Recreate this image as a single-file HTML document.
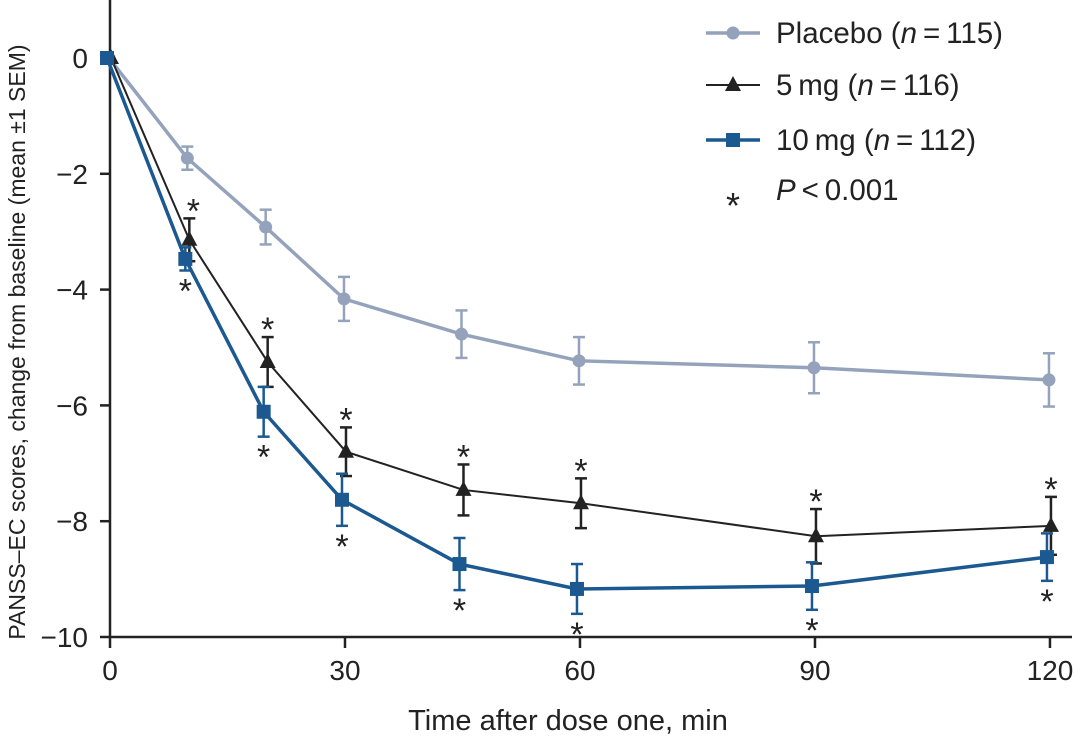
<!DOCTYPE html>
<html><head><meta charset="utf-8"><style>
html,body{margin:0;padding:0;background:#fff;}
svg text{font-family:"Liberation Sans",sans-serif;}
</style></head><body>
<svg id="chart" width="1074" height="740" xmlns="http://www.w3.org/2000/svg"></svg>
<script>
const times=[0,10,20,30,45,60,90,120];
const placebo=[0,-1.73,-2.92,-4.16,-4.77,-5.23,-5.35,-5.56];
const placeboErr=[0,0.2,0.3,0.38,0.41,0.41,0.44,0.46];
const mg5=[0,-3.14,-5.25,-6.8,-7.46,-7.69,-8.26,-8.08];
const mg5Err=[0,0.37,0.43,0.42,0.44,0.43,0.47,0.5];
const mg10=[0,-3.47,-6.11,-7.63,-8.74,-9.17,-9.12,-8.62];
const mg10Err=[0,0.2,0.43,0.45,0.45,0.43,0.41,0.41];
const yTicks=[0,-2,-4,-6,-8,-10];
const yTickLabels=["0","\u22122","\u22124","\u22126","\u22128","\u221210"];
const xTicks=[0,30,60,90,120];

const svg=document.getElementById('chart');
const NS="http://www.w3.org/2000/svg";
const X=t=>110+t*7.833;
const Y=v=>58-v*57.9;
function mk(tag,attrs,parent){const e=document.createElementNS(NS,tag);for(const k in attrs)e.setAttribute(k,attrs[k]);(parent||svg).appendChild(e);return e;}

let ax=mk('line',{x1:110,y1:0,x2:110,y2:638,stroke:'#222','stroke-width':2.5});


ax=mk('line',{x1:109,y1:637,x2:1072,y2:637,stroke:'#222','stroke-width':2.5});



yTicks.forEach((v,i)=>{
  const l=mk('line',{x1:100,y1:Y(v),x2:110,y2:Y(v),stroke:'#222','stroke-width':2.5});
  
  
  const t=mk('text',{x:88,y:Y(v)+10,'text-anchor':'end','font-size':28,fill:'#222'});
  t.textContent=yTickLabels[i];
  
  
});
xTicks.forEach(v=>{
  const l=mk('line',{x1:X(v),y1:637,x2:X(v),y2:648,stroke:'#222','stroke-width':2.5});
  
  
  const t=mk('text',{x:X(v),y:680,'text-anchor':'middle','font-size':28,fill:'#222'});
  t.textContent=v;
  
  
});
let tt=mk('text',{x:568,y:730,'text-anchor':'middle','font-size':29,fill:'#222'});
tt.textContent='Time after dose one, min';


tt=mk('text',{x:0,y:0,'text-anchor':'middle','font-size':23,fill:'#222',transform:'translate(25,342) rotate(-90)'});
tt.textContent='PANSS\u2013EC scores, change from baseline (mean \u00b11 SEM)';



function marker(g,shape,x,y,color){
  if(shape==='circle')return mk('circle',{cx:x,cy:y,r:6.5,fill:color},g);
  if(shape==='tri')return mk('polygon',{points:`${x},${y-9} ${x-8},${y+6} ${x+8},${y+6}`,fill:color},g);
  return mk('rect',{x:x-7,y:y-7,width:14,height:14,fill:color},g);
}
function series(name,vals,errs,color,width,shape,dx){
  const g=mk('g',{});
  
  
  const pts=times.map((t,i)=>[X(t)+dx,Y(vals[i])]);
  mk('polyline',{points:pts.map(p=>p.join(',')).join(' '),fill:'none',stroke:color,'stroke-width':width},g);
  pts.forEach((p,i)=>{
    if(errs[i]>0){
      const y1=Y(vals[i]+errs[i]),y2=Y(vals[i]-errs[i]);
      mk('line',{x1:p[0],y1:y1,x2:p[0],y2:y2,stroke:color,'stroke-width':2.5},g);
      mk('line',{x1:p[0]-6,y1:y1,x2:p[0]+6,y2:y1,stroke:color,'stroke-width':2.5},g);
      mk('line',{x1:p[0]-6,y1:y2,x2:p[0]+6,y2:y2,stroke:color,'stroke-width':2.5},g);
    }
    const m=marker(g,shape,p[0],p[1],color);
    
    
  });
  return pts;
}
series('placebo-series',placebo,placeboErr,'#94a3bb',3.5,'circle',-1);
const p5=series('5mg-series',mg5,mg5Err,'#222',2,'tri',1);
const p10=series('10mg-series',mg10,mg10Err,'#1b5990',3.5,'sq',-3);
times.forEach((t,i)=>{
  if(i===0)return;
  let s=mk('text',{x:p5[i][0]+(i===1?4:0),y:Y(mg5[i]+mg5Err[i])+4,'text-anchor':'middle','font-size':34,fill:'#222'});
  s.textContent='*';
  
  
  s=mk('text',{x:p10[i][0],y:Y(mg10[i]-mg10Err[i])+32,'text-anchor':'middle','font-size':34,fill:'#222'});
  s.textContent='*';
  
  
});

const leg=mk('g',{});


const entries=[['Placebo (','n','\u2009=\u2009115)','#94a3bb',3.5,'circle',33],
['5\u2009mg (','n','\u2009=\u2009116)','#222',2,'tri',85],
['10\u2009mg (','n','\u2009=\u2009112)','#1b5990',3.5,'sq',140]];
entries.forEach(e=>{
  const g=mk('g',{},leg);
  
  
  mk('line',{x1:706,y1:e[6],x2:760,y2:e[6],stroke:e[3],'stroke-width':e[4]},g);
  marker(g,e[5],733,e[6],e[3]);
  const t=mk('text',{x:776,y:e[6]+10,'font-size':29.5,fill:'#222'},g);
  t.innerHTML=e[0]+'<tspan font-style="italic">'+e[1]+'</tspan>'+e[2];
});
const g4=mk('g',{},leg);


let a=mk('text',{x:733,y:218,'text-anchor':'middle','font-size':36,fill:'#222'},g4);a.textContent='*';
a=mk('text',{x:776,y:200,'font-size':29.5,fill:'#222'},g4);
a.innerHTML='<tspan font-style="italic">P</tspan>\u2009&lt;\u20090.001';
</script>
</body></html>
